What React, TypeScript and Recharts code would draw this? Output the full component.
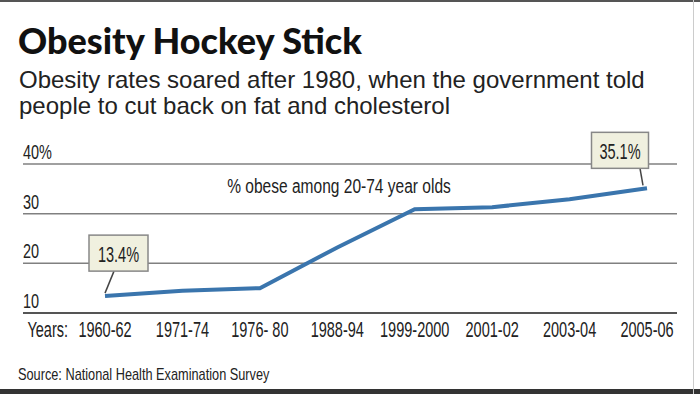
import React from 'react';
import { LineChart, Line, XAxis, YAxis, CartesianGrid, LabelList } from 'recharts';

const periods = ['1960-62', '1971-74', '1976- 80', '1988-94', '1999-2000', '2001-02', '2003-04', '2005-06'];
const obeseRates = [13.4, 14.5, 15.0, 23.2, 30.9, 31.3, 32.9, 35.1];
const yTicks = [10, 20, 30, 40];
const yTickLabels = ['10', '20', '30', '40%'];

const data = periods.map((p, i) => ({ period: p, rate: obeseRates[i] }));

const SANS = '"Liberation Sans", Arial, sans-serif';
const LINE_COLOR = '#3a75ad';

const CText = ({ x, y, sx = 0.66, size = 22, anchor = 'start', children }: any) => (
  <text
    transform={`translate(${x},${y}) scale(${sx},1)`}
    textAnchor={anchor}
    fontFamily={SANS}
    fontSize={size}
    fill="#222"
  >
    {children}
  </text>
);

const XTick = (props: any) => {
  const { x, y, payload, index } = props;
  return (
    <g>
      {index === 0 && (
        <CText x={x - 37} y={y + 16} anchor="end">
          Years:
        </CText>
      )}
      <CText x={x} y={y + 16} anchor="middle">
        {payload.value}
      </CText>
    </g>
  );
};

const YTick = (props: any) => {
  const { y, payload } = props;
  const i = yTicks.indexOf(payload.value);
  return (
    <CText x={23} y={y - 5} anchor="start" size={21} sx={0.69}>
      {yTickLabels[i]}
    </CText>
  );
};

const Callout = (props: any) => {
  const { x, y, value, index } = props;
  if (index !== 0 && index !== obeseRates.length - 1) return null;
  const first = index === 0;
  const w = first ? 59 : 57;
  const h = 36;
  const cx = first ? x + 13.5 : x - 27;
  const top = first ? y - 61 : y - 56;
  const px1 = first ? x + 9 : x - 7;
  const py2 = y - 3;
  const px2 = first ? x : x - 4;
  return (
    <g>
      <line x1={px1} y1={top + h} x2={px2} y2={py2} stroke="#444" strokeWidth={1.5} />
      <rect x={cx - w / 2} y={top} width={w} height={h} fill="#f0f0df" stroke="#888" strokeWidth={1.5} />
      <CText x={cx} y={top + 27} anchor="middle" size={22} sx={0.66}>
        {`${Number(value).toFixed(1)}%`}
      </CText>
    </g>
  );
};

export default function App() {
  return (
    <div style={{ position: 'absolute', left: 0, top: 0, width: 700, height: 394, background: '#fff', overflow: 'hidden' }}>
      <div style={{ position: 'absolute', left: 0, top: 0, width: 700, height: 2, background: '#555' }} />
      <div style={{ position: 'absolute', left: 0, top: 389, width: 700, height: 5, background: '#333' }} />
      <div style={{ position: 'absolute', left: 693, top: 0, width: 1, height: 394, background: '#ccc' }} />
      <div style={{ position: 'absolute', left: 18, top: 18, fontFamily: 'Lato, sans-serif', fontWeight: 900, fontSize: 36, color: '#111', whiteSpace: 'nowrap', lineHeight: '44px' }}>
        Obesity Hockey Stick
      </div>
      <div style={{ position: 'absolute', left: 19, top: 67, fontFamily: SANS, fontSize: 24, color: '#222', lineHeight: '26px', whiteSpace: 'nowrap', transform: 'scaleX(1)', transformOrigin: 'left top' }}>
        <div>Obesity rates soared after 1980, when the government told</div>
        <div>people to cut back on fat and cholesterol</div>
      </div>
      <div style={{ position: 'absolute', left: 0, top: 0 }}>
        <LineChart width={700} height={394} data={data} margin={{ top: 164, right: 23, left: 22, bottom: 0 }}>
          <CartesianGrid horizontal vertical={false} stroke="#808080" strokeWidth={1.5} />
          <XAxis
            dataKey="period"
            height={81}
            padding={{ left: 82, right: 30 }}
            axisLine={{ stroke: '#555', strokeWidth: 2 }}
            tickLine={false}
            tick={<XTick />}
            interval={0}
          />
          <YAxis
            domain={[10, 40]}
            ticks={yTicks}
            width={1}
            axisLine={false}
            tickLine={false}
            tickSize={0}
            tickMargin={0}
            tick={<YTick />}
            allowDataOverflow
          />
          <CText x={339} y={193} anchor="middle" size={21} sx={0.74}>
            % obese among 20-74 year olds
          </CText>
          <CText x={18} y={380} anchor="start" size={17} sx={0.75}>
            Source: National Health Examination Survey
          </CText>
          <Line
            type="linear"
            dataKey="rate"
            stroke={LINE_COLOR}
            strokeWidth={4}
            dot={false}
            isAnimationActive={false}
          >
            <LabelList dataKey="rate" content={<Callout />} />
          </Line>
        </LineChart>
      </div>
    </div>
  );
}
